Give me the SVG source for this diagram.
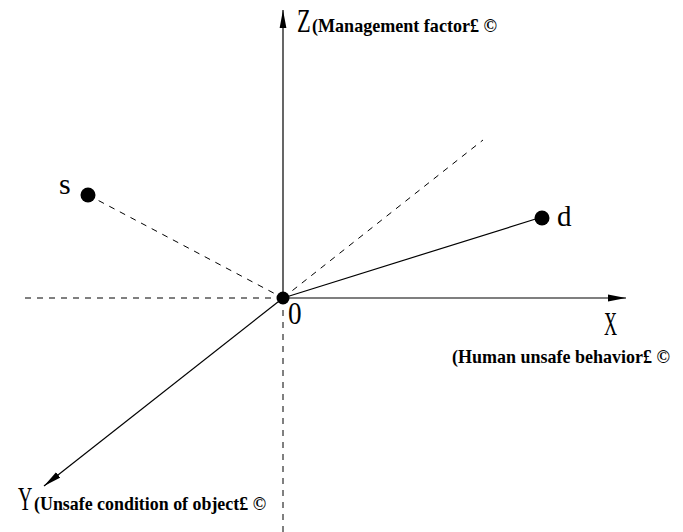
<svg xmlns="http://www.w3.org/2000/svg" width="683" height="532" viewBox="0 0 683 532">
<style>
.ax{stroke:#000;stroke-width:1.2;fill:none}
.dash{stroke:#000;stroke-width:1;fill:none;stroke-dasharray:6 6}
.big{font-family:"Liberation Serif",serif;fill:#000}
.bold{font-family:"Liberation Serif",serif;font-weight:bold;font-size:19px;fill:#000}
</style>
<defs>
<marker id="arr" markerUnits="userSpaceOnUse" markerWidth="20" markerHeight="8" refX="18" refY="4" orient="auto">
<path d="M0,0.6 L18,4 L0,7.4 Z" fill="#000"/>
</marker>
</defs>
<rect width="683" height="532" fill="#fff"/>
<g id="connectors">
<line class="dash" x1="25" y1="298" x2="283" y2="298"/>
<line class="dash" x1="283" y1="298" x2="283" y2="532"/>
<line class="dash" x1="283" y1="298" x2="483" y2="140"/>
<line class="dash" x1="88" y1="195" x2="283" y2="298"/>
<line class="ax" x1="283" y1="298" x2="542" y2="217"/>
<line class="ax" x1="283" y1="298" x2="283" y2="10" marker-end="url(#arr)"/>
<line class="ax" x1="283" y1="298" x2="626" y2="298" marker-end="url(#arr)"/>
<line class="ax" x1="283" y1="298" x2="44" y2="486" marker-end="url(#arr)"/>
</g>
<g id="origin">
<circle cx="283" cy="298" r="6.5" fill="#000"/>
<text class="big" font-size="32" transform="translate(288,324) scale(0.85,1)">0</text>
</g>
<g id="node-s">
<circle cx="88" cy="195" r="7.5" fill="#000"/>
<text class="big" font-size="30" x="59" y="194">s</text>
</g>
<g id="node-d">
<circle cx="542" cy="218" r="7.5" fill="#000"/>
<text class="big" font-size="29" x="557" y="226">d</text>
</g>
<g id="axis-z">
<text class="big" font-size="33" transform="translate(297,32) scale(0.68,1)">Z</text>
<text class="bold" x="312" y="32" textLength="185" lengthAdjust="spacingAndGlyphs">(Management factor£  ©</text>
</g>
<g id="axis-x">
<text class="big" font-size="33" transform="translate(604,335) scale(0.55,1)">X</text>
<text class="bold" x="452" y="363" textLength="218" lengthAdjust="spacingAndGlyphs">(Human unsafe behavior£  ©</text>
</g>
<g id="axis-y">
<text class="big" font-size="33" transform="translate(18,510) scale(0.6,1)">Y</text>
<text class="bold" x="34" y="510" textLength="232" lengthAdjust="spacingAndGlyphs">(Unsafe condition of object£  ©</text>
</g>
</svg>
